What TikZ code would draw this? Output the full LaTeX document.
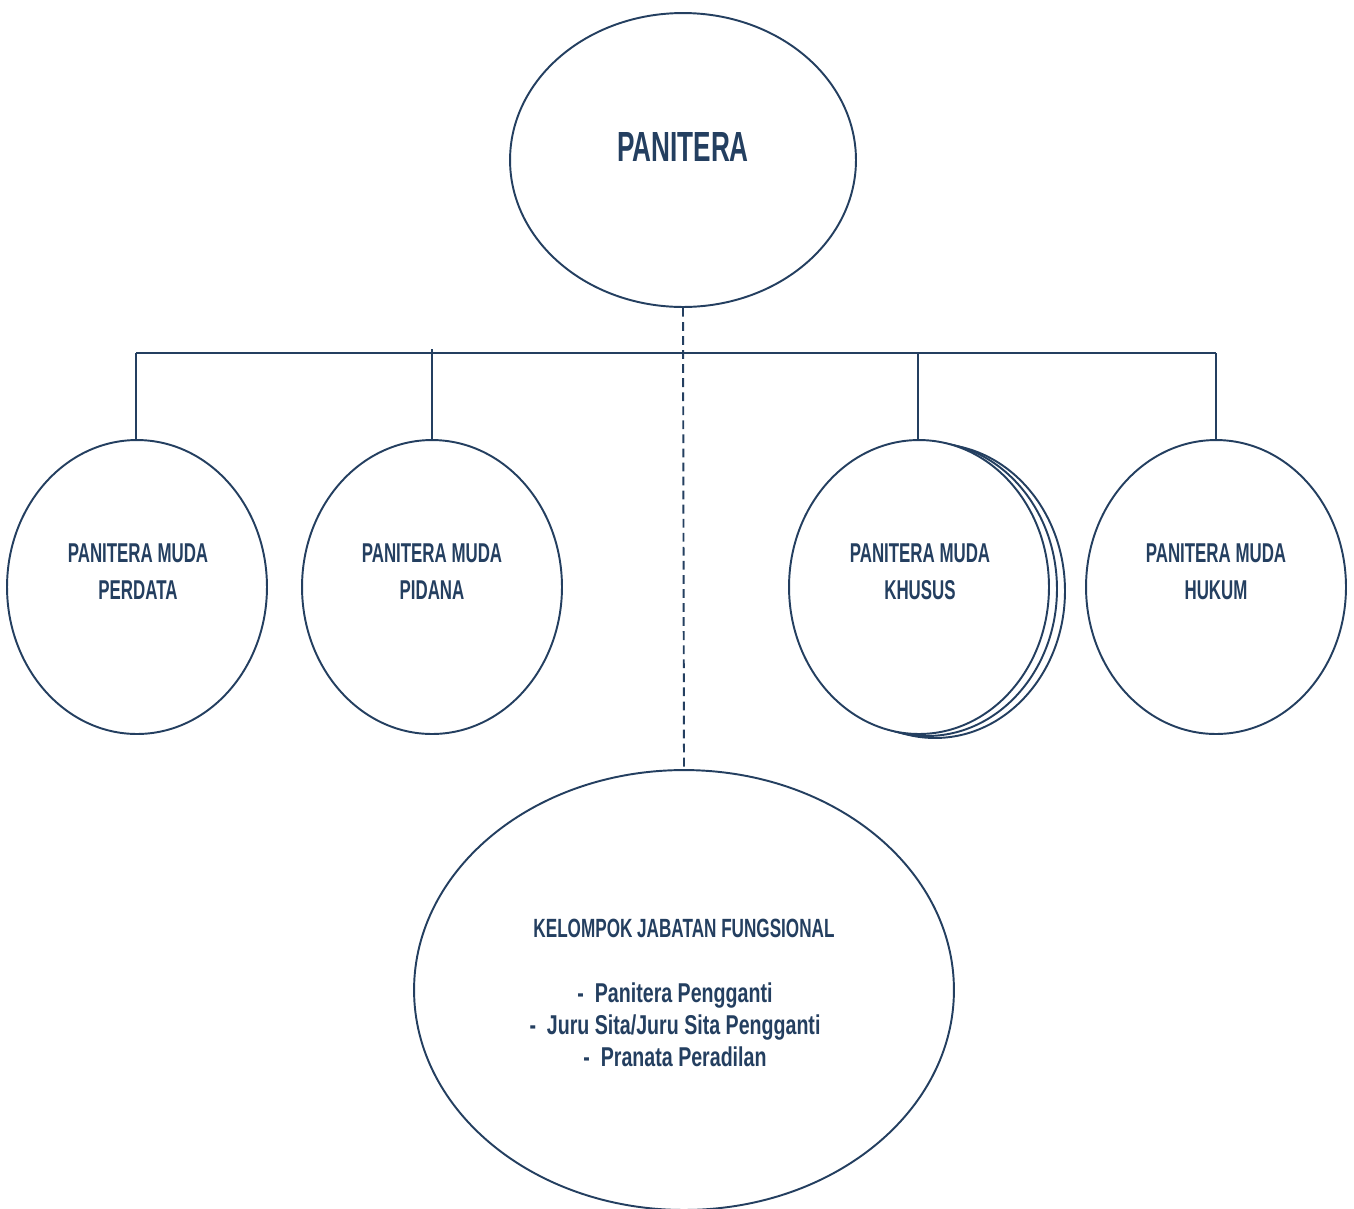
\documentclass[tikz,border=0pt]{standalone}
\usepackage{fontspec}
\newfontfamily\agency[FakeStretch=0.62]{Liberation Sans}
\newfontfamily\agencyhead[FakeStretch=0.65]{Liberation Sans}
\newfontfamily\agencyitem[FakeStretch=0.72]{Liberation Sans}
\usetikzlibrary{shapes.geometric}
\definecolor{navy}{HTML}{243F60}
\tikzset{
  oval/.style={ellipse, draw=navy, line width=1.1pt, fill=white, inner sep=0pt},
  lbl/.style={text=navy, font=\agency\bfseries, align=center, inner sep=0pt},
  conn/.style={draw=navy, line width=1.1pt},
}
\begin{document}
\begin{tikzpicture}[x=0.02cm,y=-0.02cm]
\useasboundingbox (0,0) rectangle (1354,1208);
\clip (0,0) rectangle (1354,1208);
% top
\node[oval, minimum width=6.92cm, minimum height=5.88cm] (top) at (683,160) {};
\node[lbl, font=\agency\bfseries\fontsize{24}{28}\selectfont] (ttop) at (683,147) {PANITERA};
% bar
\coordinate (bl) at (136,353);
\coordinate (br) at (1216,353);
\draw[conn] (bl) -- (br);
% second level
\node[oval, minimum width=5.2cm, minimum height=5.88cm] (perdata) at (137,587) {};
\node[oval, minimum width=5.2cm, minimum height=5.88cm] (pidana) at (432,587) {};
\node[oval, minimum width=5.2cm, minimum height=5.88cm] (khusus3) at (935,591) {};
\node[oval, minimum width=5.2cm, minimum height=5.88cm] (khusus2) at (927,589) {};
\node[oval, minimum width=5.2cm, minimum height=5.88cm] (khusus) at (919,587) {};
\node[oval, minimum width=5.2cm, minimum height=5.88cm] (hukum) at (1216,587) {};
\tikzset{sub/.style={lbl, font=\agency\bfseries\fontsize{15.5}{21}\selectfont}}
\node[sub] (tperdata) at (138,572) {PANITERA MUDA\\PERDATA};
\node[sub] (tpidana) at (432,572) {PANITERA MUDA\\PIDANA};
\node[sub] (tkhusus) at (920,572) {PANITERA MUDA\\KHUSUS};
\node[sub] (thukum) at (1216,572) {PANITERA MUDA\\HUKUM};
\coordinate (cpid) at (432,349);
\coordinate (ckhu) at (918,353);
\draw[conn] (bl) -- (bl |- perdata.north);
\draw[conn] (cpid) -- (cpid |- pidana.north);
\draw[conn] (ckhu) -- (ckhu |- khusus.north);
\draw[conn] (br) -- (br |- hukum.north);
% bottom
\node[oval, minimum width=10.8cm, minimum height=8.8cm] (bottom) at (684,990) {};
\node[lbl, font=\agencyhead\bfseries\fontsize{15}{18}\selectfont] (thead) at (684,928) {KELOMPOK JABATAN FUNGSIONAL};
\node[lbl, font=\agencyitem\bfseries\fontsize{15.5}{18.2}\selectfont] (titems) at (675,1025) {-\ \ Panitera Pengganti\\-\ \ Juru Sita/Juru Sita Pengganti\\-\ \ Pranata Peradilan};
\draw[conn, dashed, dash pattern=on 5pt off 3pt] (top.south) -- (bottom.north);
\end{tikzpicture}
\end{document}
